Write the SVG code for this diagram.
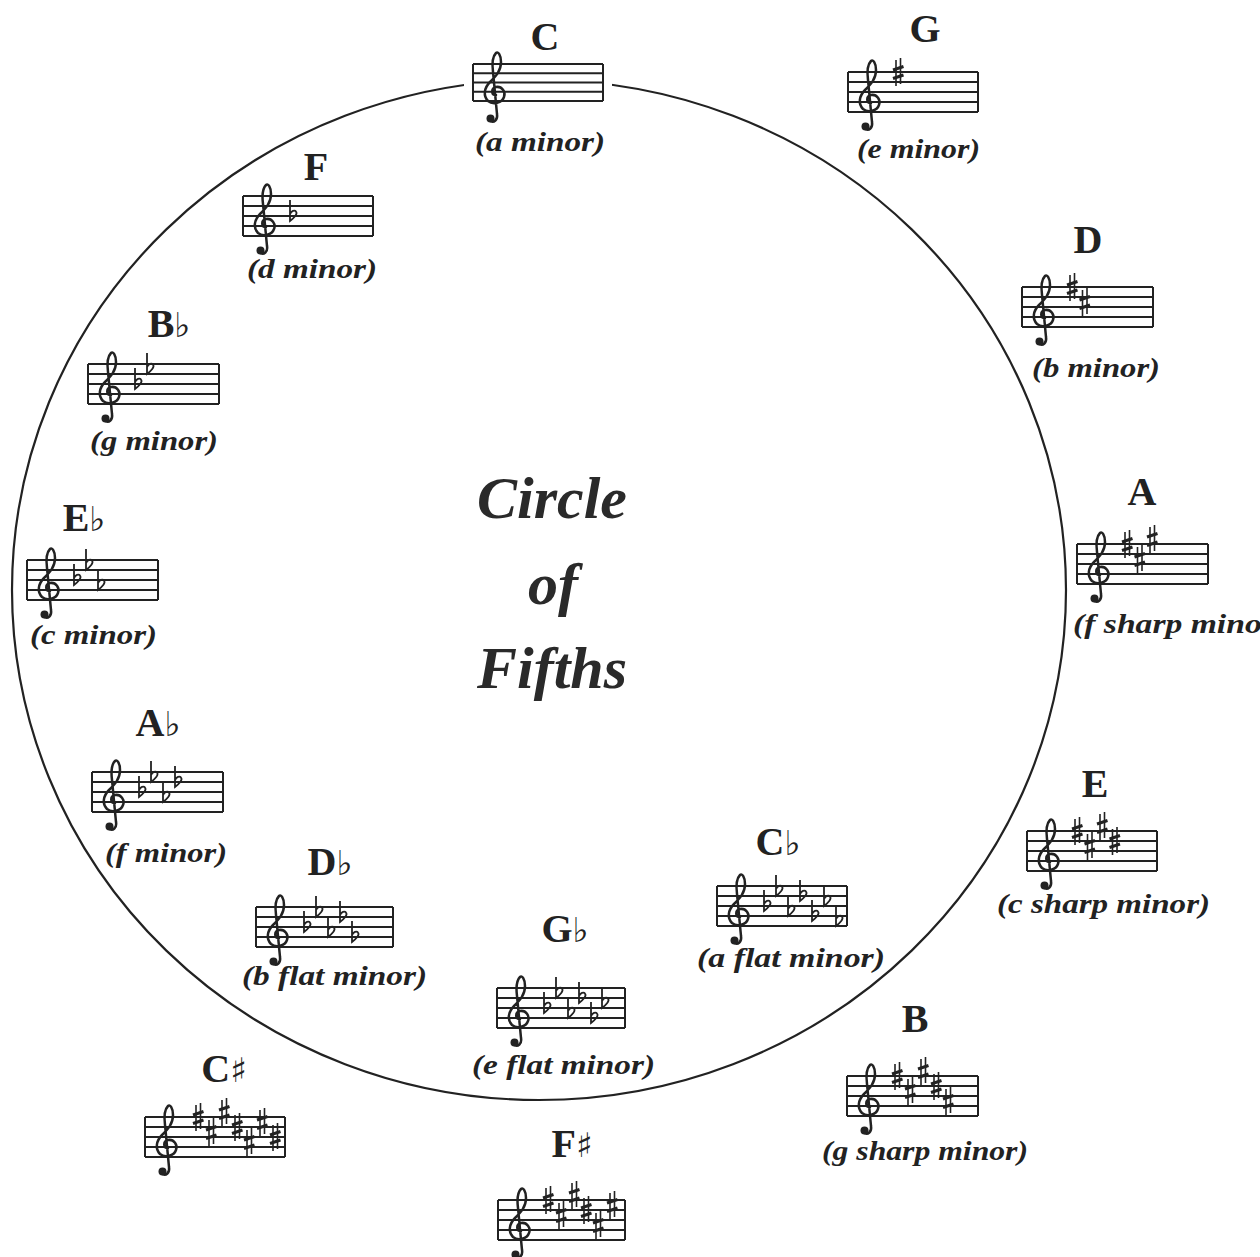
<svg xmlns="http://www.w3.org/2000/svg" xmlns:xlink="http://www.w3.org/1999/xlink" width="1260" height="1257" viewBox="0 0 1260 1257">
<style>
.key{font-family:"Liberation Serif","DejaVu Serif",serif;font-weight:bold;font-size:40px;fill:#222;text-anchor:middle}
.acc{font-family:"DejaVu Serif","DejaVu Sans",serif;font-weight:normal;font-size:34px;fill:#222}
.minor{font-family:"Liberation Serif","DejaVu Serif",serif;font-weight:bold;font-style:italic;font-size:28px;fill:#222}
.title{font-family:"Liberation Serif","DejaVu Serif",serif;font-weight:bold;font-style:italic;font-size:60px;fill:#2a2a2a;text-anchor:middle}
.staff{fill:none;stroke:#222;stroke-width:2}
.bg{fill:#fff}
.clefline{fill:none;stroke:#222;stroke-width:2.5;stroke-linecap:round}
.sh1{stroke:#222;stroke-width:1.6}
.sh2{stroke:#222;stroke-width:3}
.fl{fill:none;stroke:#222;stroke-width:1.8}
</style>
<defs>
<g id="clef">
<path class="clefline" d="M23 31 C18 31,18 24,23 23 C29 22,33 28,31 33 C29 39,20 41,15 37 C10 32,11 24,17 18 C23 12,28 7,28 -2 C28 -9,25 -13,23 -11 C20 -8,19 0,20 8 L24 50 C25 56,21 59,17 57"/>
<circle cx="17.5" cy="54.5" r="4" fill="#222"/>
</g>
<g id="sharp"><path class="sh1" d="M-2 -12V14M2.5 -14V12"/><path class="sh2" d="M-5 -2L5.5 -5.5M-5 6.5L5.5 3"/></g>
<g id="flat"><path class="fl" d="M0 -16V5 C4 2,8 -2,6 -4.5 C4.5 -6.5,1.5 -5,0 -2"/></g>
</defs>
<rect width="1260" height="1257" fill="#fff"/>
<g id="connectors">
<ellipse cx="539" cy="590" rx="527" ry="510" fill="none" stroke="#222" stroke-width="2.2"/>
</g>
<g id="title">
<text class="title" x="552" y="518">Circle</text>
<text class="title" x="553" y="604">of</text>
<text class="title" x="552" y="688">Fifths</text>
</g>

<g id="node-C">
<text class="key" x="545" y="50">C</text>
<g transform="translate(473,64)">
<rect class="bg" x="-9" y="-14" width="148" height="68"/>
<path class="staff" d="M0 0H130M0 9.25H130M0 18.5H130M0 27.75H130M0 37H130M0 0V37M130 0V37"/>
<use xlink:href="#clef"/>
</g>
<text class="minor" x="475" y="151" textLength="130" lengthAdjust="spacingAndGlyphs">(a minor)</text>
</g>

<g id="node-G">
<text class="key" x="925" y="42">G</text>
<g transform="translate(848,72)">
<path class="staff" d="M0 0H130M0 10H130M0 20H130M0 30H130M0 40H130M0 0V40M130 0V40"/>
<use xlink:href="#clef"/>
<use xlink:href="#sharp" x="50" y="0"/>
</g>
<text class="minor" x="857" y="158" textLength="123" lengthAdjust="spacingAndGlyphs">(e minor)</text>
</g>

<g id="node-F">
<text class="key" x="316" y="180">F</text>
<g transform="translate(243,196)">
<path class="staff" d="M0 0H130M0 10H130M0 20H130M0 30H130M0 40H130M0 0V40M130 0V40"/>
<use xlink:href="#clef"/>
<use xlink:href="#flat" x="47" y="20"/>
</g>
<text class="minor" x="247" y="278" textLength="130" lengthAdjust="spacingAndGlyphs">(d minor)</text>
</g>

<g id="node-D">
<text class="key" x="1088" y="253">D</text>
<g transform="translate(1022,287)">
<path class="staff" d="M0 0H131M0 10H131M0 20H131M0 30H131M0 40H131M0 0V40M131 0V40"/>
<use xlink:href="#clef"/>
<use xlink:href="#sharp" x="50" y="0"/>
<use xlink:href="#sharp" x="62.5" y="15"/>
</g>
<text class="minor" x="1032" y="377" textLength="128" lengthAdjust="spacingAndGlyphs">(b minor)</text>
</g>

<g id="node-Bb">
<text class="key" x="169" y="337">B<tspan class="acc">♭</tspan></text>
<g transform="translate(88,364)">
<path class="staff" d="M0 0H131M0 10H131M0 20H131M0 30H131M0 40H131M0 0V40M131 0V40"/>
<use xlink:href="#clef"/>
<use xlink:href="#flat" x="47" y="20"/>
<use xlink:href="#flat" x="59" y="5"/>
</g>
<text class="minor" x="90" y="450" textLength="128" lengthAdjust="spacingAndGlyphs">(g minor)</text>
</g>

<g id="node-A">
<text class="key" x="1142" y="505">A</text>
<g transform="translate(1077,544)">
<path class="staff" d="M0 0H131M0 10H131M0 20H131M0 30H131M0 40H131M0 0V40M131 0V40"/>
<use xlink:href="#clef"/>
<use xlink:href="#sharp" x="50" y="0"/>
<use xlink:href="#sharp" x="62.5" y="15"/>
<use xlink:href="#sharp" x="75" y="-5"/>
</g>
<text class="minor" x="1073" y="633" textLength="213" lengthAdjust="spacingAndGlyphs">(f sharp minor)</text>
</g>

<g id="node-Eb">
<text class="key" x="84" y="531">E<tspan class="acc">♭</tspan></text>
<g transform="translate(27,560)">
<path class="staff" d="M0 0H131M0 10H131M0 20H131M0 30H131M0 40H131M0 0V40M131 0V40"/>
<use xlink:href="#clef"/>
<use xlink:href="#flat" x="47" y="20"/>
<use xlink:href="#flat" x="59" y="5"/>
<use xlink:href="#flat" x="71" y="25"/>
</g>
<text class="minor" x="30" y="644" textLength="127" lengthAdjust="spacingAndGlyphs">(c minor)</text>
</g>

<g id="node-Ab">
<text class="key" x="158" y="736">A<tspan class="acc">♭</tspan></text>
<g transform="translate(92,772)">
<path class="staff" d="M0 0H131M0 10H131M0 20H131M0 30H131M0 40H131M0 0V40M131 0V40"/>
<use xlink:href="#clef"/>
<use xlink:href="#flat" x="47" y="20"/>
<use xlink:href="#flat" x="59" y="5"/>
<use xlink:href="#flat" x="71" y="25"/>
<use xlink:href="#flat" x="83" y="10"/>
</g>
<text class="minor" x="105" y="862" textLength="122" lengthAdjust="spacingAndGlyphs">(f minor)</text>
</g>

<g id="node-E">
<text class="key" x="1095" y="797">E</text>
<g transform="translate(1027,831)">
<path class="staff" d="M0 0H130M0 10H130M0 20H130M0 30H130M0 40H130M0 0V40M130 0V40"/>
<use xlink:href="#clef"/>
<use xlink:href="#sharp" x="50" y="0"/>
<use xlink:href="#sharp" x="62.5" y="15"/>
<use xlink:href="#sharp" x="75" y="-5"/>
<use xlink:href="#sharp" x="87.5" y="10"/>
</g>
<text class="minor" x="997" y="913" textLength="213" lengthAdjust="spacingAndGlyphs">(c sharp minor)</text>
</g>

<g id="node-Db">
<text class="key" x="330" y="875">D<tspan class="acc">♭</tspan></text>
<g transform="translate(256,907)">
<path class="staff" d="M0 0H137M0 10H137M0 20H137M0 30H137M0 40H137M0 0V40M137 0V40"/>
<use xlink:href="#clef"/>
<use xlink:href="#flat" x="48" y="20"/>
<use xlink:href="#flat" x="60" y="5"/>
<use xlink:href="#flat" x="72" y="25"/>
<use xlink:href="#flat" x="84" y="10"/>
<use xlink:href="#flat" x="96" y="30"/>
</g>
<text class="minor" x="242" y="985" textLength="185" lengthAdjust="spacingAndGlyphs">(b flat minor)</text>
</g>

<g id="node-Cb">
<text class="key" x="778" y="855">C<tspan class="acc">♭</tspan></text>
<g transform="translate(717,886)">
<path class="staff" d="M0 0H130M0 10H130M0 20H130M0 30H130M0 40H130M0 0V40M130 0V40"/>
<use xlink:href="#clef"/>
<use xlink:href="#flat" x="47" y="20"/>
<use xlink:href="#flat" x="59" y="5"/>
<use xlink:href="#flat" x="71" y="25"/>
<use xlink:href="#flat" x="83" y="10"/>
<use xlink:href="#flat" x="95" y="30"/>
<use xlink:href="#flat" x="107" y="15"/>
<use xlink:href="#flat" x="119" y="35"/>
</g>
<text class="minor" x="697" y="967" textLength="188" lengthAdjust="spacingAndGlyphs">(a flat minor)</text>
</g>

<g id="node-Gb">
<text class="key" x="565" y="942">G<tspan class="acc">♭</tspan></text>
<g transform="translate(497,988)">
<path class="staff" d="M0 0H128M0 10H128M0 20H128M0 30H128M0 40H128M0 0V40M128 0V40"/>
<use xlink:href="#clef"/>
<use xlink:href="#flat" x="47" y="20"/>
<use xlink:href="#flat" x="59" y="5"/>
<use xlink:href="#flat" x="71" y="25"/>
<use xlink:href="#flat" x="82" y="10"/>
<use xlink:href="#flat" x="94" y="30"/>
<use xlink:href="#flat" x="105" y="15"/>
</g>
<text class="minor" x="472" y="1074" textLength="183" lengthAdjust="spacingAndGlyphs">(e flat minor)</text>
</g>

<g id="node-B">
<text class="key" x="915" y="1032">B</text>
<g transform="translate(847,1076)">
<path class="staff" d="M0 0H131M0 10H131M0 20H131M0 30H131M0 40H131M0 0V40M131 0V40"/>
<use xlink:href="#clef"/>
<use xlink:href="#sharp" x="50" y="0"/>
<use xlink:href="#sharp" x="63" y="15"/>
<use xlink:href="#sharp" x="76" y="-5"/>
<use xlink:href="#sharp" x="89" y="10"/>
<use xlink:href="#sharp" x="101" y="25"/>
</g>
<text class="minor" x="822" y="1160" textLength="206" lengthAdjust="spacingAndGlyphs">(g sharp minor)</text>
</g>

<g id="node-Csharp">
<text class="key" x="224" y="1082">C<tspan class="acc">♯</tspan></text>
<g transform="translate(145,1117)">
<path class="staff" d="M0 0H140M0 10H140M0 20H140M0 30H140M0 40H140M0 0V40M140 0V40"/>
<use xlink:href="#clef"/>
<use xlink:href="#sharp" x="53" y="0"/>
<use xlink:href="#sharp" x="66" y="15"/>
<use xlink:href="#sharp" x="79" y="-5"/>
<use xlink:href="#sharp" x="92" y="10"/>
<use xlink:href="#sharp" x="104" y="25"/>
<use xlink:href="#sharp" x="117" y="5"/>
<use xlink:href="#sharp" x="130" y="20"/>
</g>
</g>

<g id="node-Fsharp">
<text class="key" x="572" y="1157">F<tspan class="acc">♯</tspan></text>
<g transform="translate(498,1200)">
<path class="staff" d="M0 0H127M0 10H127M0 20H127M0 30H127M0 40H127M0 0V40M127 0V40"/>
<use xlink:href="#clef"/>
<use xlink:href="#sharp" x="50" y="0"/>
<use xlink:href="#sharp" x="63" y="15"/>
<use xlink:href="#sharp" x="76" y="-5"/>
<use xlink:href="#sharp" x="88" y="10"/>
<use xlink:href="#sharp" x="100" y="25"/>
<use xlink:href="#sharp" x="114" y="5"/>
</g>
</g>
</svg>
